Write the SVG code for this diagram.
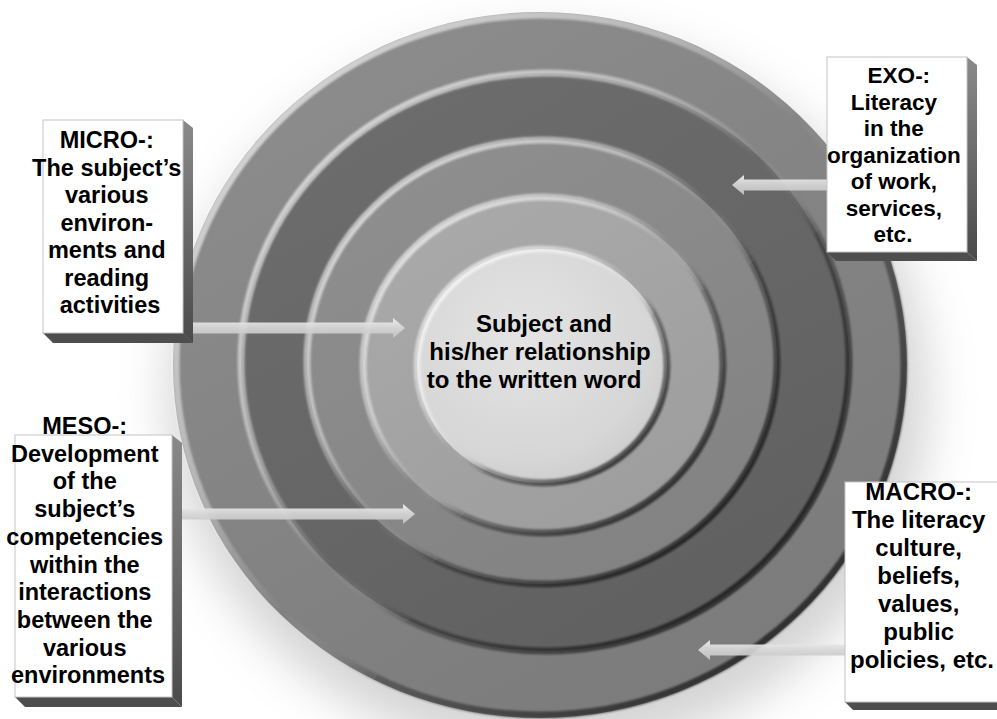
<svg xmlns="http://www.w3.org/2000/svg" width="997" height="719" viewBox="0 0 997 719">
  <style>
    .lbl { font-family: "Liberation Sans", Arial, sans-serif; font-weight: bold; fill: #000; text-anchor: middle; }
    .box { fill: #fff; stroke: #c4c4c4; stroke-width: 1; }
    .side { fill: url(#sideShade); }
    .base { fill: #4e4e4e; }
    .rim { fill: none; stroke: url(#rim); stroke-width: 7; filter: url(#soft); }
    .arrow { fill: url(#arrowFill); opacity: 0.92; }
  </style>
  <defs>
    <filter id="soft" x="-5%" y="-5%" width="110%" height="110%">
      <feGaussianBlur stdDeviation="1.3"/>
    </filter>
    <filter id="halo" x="-30%" y="-30%" width="160%" height="160%">
      <feGaussianBlur stdDeviation="24"/>
    </filter>
    <linearGradient id="rim" x1="0" y1="0" x2="1" y2="1">
      <stop offset="0" stop-color="#fff" stop-opacity="0.75"/>
      <stop offset="0.35" stop-color="#fff" stop-opacity="0.4"/>
      <stop offset="0.5" stop-color="#fff" stop-opacity="0"/>
      <stop offset="0.62" stop-color="#000" stop-opacity="0.3"/>
      <stop offset="1" stop-color="#000" stop-opacity="0.8"/>
    </linearGradient>
    <linearGradient id="r4" x1="0" y1="0" x2="0.6" y2="1">
      <stop offset="0" stop-color="#8e8e8e"/>
      <stop offset="1" stop-color="#7c7c7c"/>
    </linearGradient>
    <linearGradient id="r3" x1="0" y1="0" x2="0.6" y2="1">
      <stop offset="0" stop-color="#6e6e6e"/>
      <stop offset="1" stop-color="#616161"/>
    </linearGradient>
    <linearGradient id="r2" x1="0" y1="0" x2="0.6" y2="1">
      <stop offset="0" stop-color="#909090"/>
      <stop offset="1" stop-color="#838383"/>
    </linearGradient>
    <linearGradient id="r1" x1="0" y1="0" x2="0.6" y2="1">
      <stop offset="0" stop-color="#ababab"/>
      <stop offset="1" stop-color="#9e9e9e"/>
    </linearGradient>
    <radialGradient id="core" cx="0.42" cy="0.38" r="0.65">
      <stop offset="0" stop-color="#e4e4e4"/>
      <stop offset="0.8" stop-color="#d6d6d6"/>
      <stop offset="1" stop-color="#cdcdcd"/>
    </radialGradient>
    <linearGradient id="sideShade" x1="0" y1="0" x2="0" y2="1">
      <stop offset="0" stop-color="#8a8a8a"/>
      <stop offset="1" stop-color="#4a4a4a"/>
    </linearGradient>
    <linearGradient id="arrowFill" x1="0" y1="0" x2="0" y2="1">
      <stop offset="0" stop-color="#f2f2f2"/>
      <stop offset="0.5" stop-color="#d6d6d6"/>
      <stop offset="1" stop-color="#c4c4c4"/>
    </linearGradient>
  </defs>

  <!-- page -->
  <rect width="997" height="719" fill="#fff"/>
  <ellipse cx="548" cy="395" rx="380" ry="360" fill="#9a9a9a" opacity="0.42" filter="url(#halo)"/>

  <!-- concentric levels, outermost first -->
  <g id="rings">
    <ellipse cx="540" cy="365" rx="367" ry="353" fill="url(#r4)"/>
    <ellipse class="rim" cx="540" cy="365" rx="364" ry="350"/>
    <ellipse cx="545" cy="362" rx="304" ry="289" fill="url(#r3)"/>
    <ellipse class="rim" cx="545" cy="362" rx="304" ry="289"/>
    <ellipse cx="542" cy="362" rx="235" ry="222" fill="url(#r2)"/>
    <ellipse class="rim" cx="542" cy="362" rx="235" ry="222"/>
    <ellipse cx="543" cy="365" rx="180" ry="168" fill="url(#r1)"/>
    <ellipse class="rim" cx="543" cy="365" rx="180" ry="168"/>
  </g>

  <g id="core-node">
    <ellipse cx="542" cy="366" rx="125" ry="117" fill="url(#core)"/>
    <ellipse class="rim" cx="542" cy="366" rx="125" ry="117"/>
    <text class="lbl" font-size="24"><tspan x="544" y="332">Subject and</tspan><tspan x="540" y="360">his/her relationship</tspan><tspan x="534" y="388">to the written word</tspan></text>
  </g>

  <!-- arrows from each level label into its ring -->
  <g id="connectors">
    <path class="arrow" d="M193,322.5 H393 V318 L405,328 L393,338 V333.5 H193 Z"/>
    <path class="arrow" d="M182,508.5 H403 V504 L415,514 L403,524 V519.5 H182 Z"/>
    <path class="arrow" d="M827,179.5 H744 V175 L732,185 L744,195 V190.5 H827 Z"/>
    <path class="arrow" d="M845,644.5 H710 V640 L698,650 L710,660 V655.5 H845 Z"/>
  </g>

  <g id="micro">
    <polygon class="side" points="183,120 193,128 193,343 183,333"/>
    <polygon class="base" points="43,333 183,333 193,343 53,343"/>
    <rect class="box" x="43" y="120" width="140" height="213"/>
    <text class="lbl" font-size="23.5">
      <tspan x="110" y="148">MICRO-:</tspan>
      <tspan x="110" y="175.5">The subject’s</tspan>
      <tspan x="110" y="203">various</tspan>
      <tspan x="110" y="230.5">environ-</tspan>
      <tspan x="110" y="258">ments and</tspan>
      <tspan x="110" y="285.5">reading</tspan>
      <tspan x="110" y="313">activities</tspan>
    </text>
  </g>

  <g id="meso">
    <polygon class="side" points="172,435 182,443 182,707 172,697"/>
    <polygon class="base" points="15,697 172,697 182,707 25,707"/>
    <rect class="box" x="15" y="435" width="157" height="262"/>
    <text class="lbl" font-size="23.5">
      <tspan x="88" y="434">MESO-:</tspan>
      <tspan x="88" y="461.7">Development</tspan>
      <tspan x="88" y="489.4">of the</tspan>
      <tspan x="88" y="517">subject’s</tspan>
      <tspan x="88" y="544.8">competencies</tspan>
      <tspan x="88" y="572.5">within the</tspan>
      <tspan x="88" y="600">interactions</tspan>
      <tspan x="88" y="628">between the</tspan>
      <tspan x="88" y="655.6">various</tspan>
      <tspan x="88" y="683.3">environments</tspan>
    </text>
  </g>

  <g id="exo">
    <polygon class="side" points="967,57 977,65 977,261 967,252"/>
    <polygon class="base" points="827,252 967,252 977,261 836,261"/>
    <rect class="box" x="827" y="57" width="140" height="195"/>
    <text class="lbl" font-size="22.5">
      <tspan x="902" y="83">EXO-:</tspan>
      <tspan x="897" y="109.5">Literacy</tspan>
      <tspan x="897" y="136">in the</tspan>
      <tspan x="897" y="162.5">organization</tspan>
      <tspan x="897" y="189">of work,</tspan>
      <tspan x="897" y="215.5">services,</tspan>
      <tspan x="893" y="242">etc.</tspan>
    </text>
  </g>

  <g id="macro">
    <polygon class="base" points="845,702 1000,702 1000,710 853,710"/>
    <rect class="box" x="845" y="482" width="160" height="220"/>
    <text class="lbl" font-size="24">
      <tspan x="922" y="500">MACRO-:</tspan>
      <tspan x="922" y="528">The literacy</tspan>
      <tspan x="922" y="556">culture,</tspan>
      <tspan x="922" y="584">beliefs,</tspan>
      <tspan x="922" y="612">values,</tspan>
      <tspan x="922" y="640">public</tspan>
      <tspan x="922" y="668">policies, etc.</tspan>
    </text>
  </g>
</svg>
